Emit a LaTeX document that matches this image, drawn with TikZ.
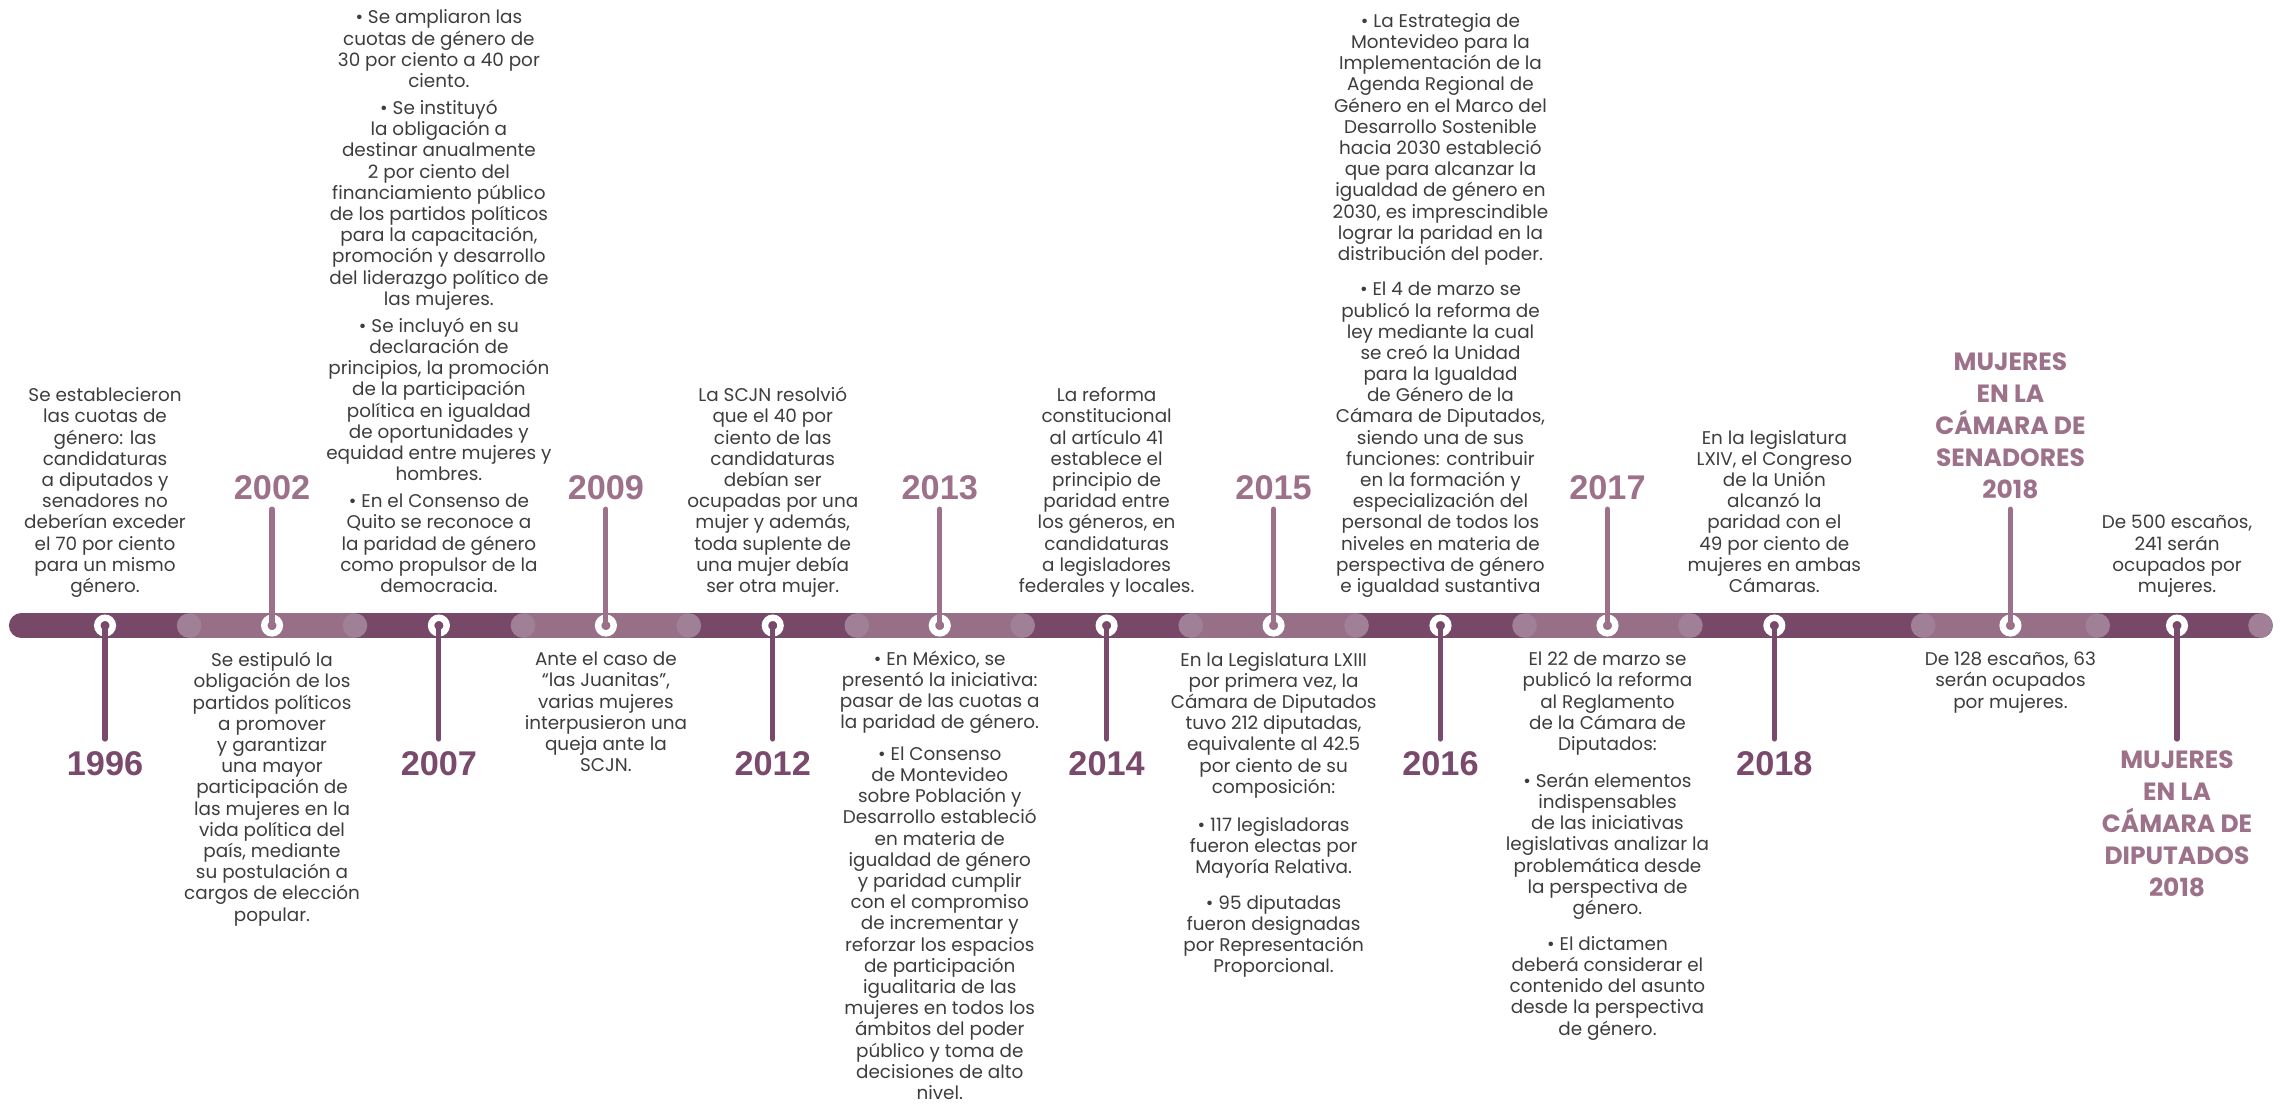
\documentclass[tikz,border=0pt]{standalone}
\usepackage{fontspec}
\setmainfont{Poppins}
\newfontfamily\yearfont{Liberation Sans}

\definecolor{bardark}{HTML}{784869}
\definecolor{barlight}{HTML}{977087}
\definecolor{barjoint}{HTML}{9F8096}
\definecolor{mauve}{HTML}{9C7189}
\definecolor{plum}{HTML}{7A4A6C}
\definecolor{txt}{HTML}{3D3D3D}

\begin{document}
\begin{tikzpicture}[x=0.7pt, y=-0.7pt,
        ring/.style={circle, draw=white, line width=3.1pt, minimum size=7.5pt, inner sep=0pt},
        stemup/.style={draw=mauve, line width=2.5pt, line cap=round},
        stemdown/.style={draw=plum, line width=2.5pt, line cap=round},
        yearup/.style={inner sep=0pt, text=mauve, font={\yearfont\bfseries\fontsize{16.5}{18}\selectfont}},
        yeardown/.style={yearup, text=plum},
        txtup/.style={anchor=south, align=center, inner sep=0pt, text=txt,
            font={\fontsize{8.85}{10.2}\selectfont},
            execute at end node=\strut},
        txtdown/.style={anchor=north, align=center, inner sep=0pt, text=txt,
            font={\fontsize{8.85}{10.2}\selectfont},
            execute at begin node=\strut},
        camara/.style={align=center, inner sep=0pt, text=mauve, font={\bfseries\fontsize{12}{15.4}\selectfont}}]

                \fill[white] (0,0) rectangle (1568,760);
                \useasboundingbox (0,0) rectangle (1568,760);

                % bar
                \draw[bardark, line width=11.83pt, line cap=round] (14.6,430) -- (1553.9,430);
                \draw[barlight, line width=11.83pt] (130,430) -- (244,430);
                \draw[barlight, line width=11.83pt] (359.5,430) -- (473.5,430);
                \draw[barlight, line width=11.83pt] (589,430) -- (703,430);
                \draw[barlight, line width=11.83pt] (818.5,430) -- (932.5,430);
                \draw[barlight, line width=11.83pt] (1048,430) -- (1162,430);
                \draw[barlight, line width=11.83pt] (1322,430) -- (1442,430);
                \fill[barjoint] (130,430) circle (5.92pt);
                \fill[barjoint] (244,430) circle (5.92pt);
                \fill[barjoint] (359.5,430) circle (5.92pt);
                \fill[barjoint] (473.5,430) circle (5.92pt);
                \fill[barjoint] (589,430) circle (5.92pt);
                \fill[barjoint] (703,430) circle (5.92pt);
                \fill[barjoint] (818.5,430) circle (5.92pt);
                \fill[barjoint] (932.5,430) circle (5.92pt);
                \fill[barjoint] (1048,430) circle (5.92pt);
                \fill[barjoint] (1162,430) circle (5.92pt);
                \fill[barjoint] (1322,430) circle (5.92pt);
                \fill[barjoint] (1442,430) circle (5.92pt);
                \fill[barjoint] (1553.9,430) circle (5.92pt);

                \node[ring] (r1996) at (72.2,430) {};
                \node[ring] (r2002) at (187,430) {};
                \node[ring] (r2007) at (301.7,430) {};
                \node[ring] (r2009) at (416.5,430) {};
                \node[ring] (r2012) at (531.2,430) {};
                \node[ring] (r2013) at (646,430) {};
                \node[ring] (r2014) at (760.7,430) {};
                \node[ring] (r2015) at (875.5,430) {};
                \node[ring] (r2016) at (990.2,430) {};
                \node[ring] (r2017) at (1105,430) {};
                \node[ring] (r2018) at (1219.7,430) {};
                \node[ring] (rsen) at (1382,430) {};
                \node[ring] (rdip) at (1496.5,430) {};

                % stems
                \coordinate (e1996) at (72.2,508);
                \coordinate (e2002) at (187,350);
                \coordinate (e2007) at (301.7,508);
                \coordinate (e2009) at (416.5,350);
                \coordinate (e2012) at (531.2,508);
                \coordinate (e2013) at (646,350);
                \coordinate (e2014) at (760.7,508);
                \coordinate (e2015) at (875.5,350);
                \coordinate (e2016) at (990.2,508);
                \coordinate (e2017) at (1105,350);
                \coordinate (e2018) at (1219.7,508);
                \coordinate (esen) at (1382,350);
                \coordinate (edip) at (1496.5,508);
                \draw[stemdown] (r1996.center) -- (e1996);
                \draw[stemup] (r2002.center) -- (e2002);
                \draw[stemdown] (r2007.center) -- (e2007);
                \draw[stemup] (r2009.center) -- (e2009);
                \draw[stemdown] (r2012.center) -- (e2012);
                \draw[stemup] (r2013.center) -- (e2013);
                \draw[stemdown] (r2014.center) -- (e2014);
                \draw[stemup] (r2015.center) -- (e2015);
                \draw[stemdown] (r2016.center) -- (e2016);
                \draw[stemup] (r2017.center) -- (e2017);
                \draw[stemdown] (r2018.center) -- (e2018);
                \draw[stemup] (rsen.center) -- (esen);
                \draw[stemdown] (rdip.center) -- (edip);

                % years
                \node[yeardown] (y1996) at (72.2,525) {1996};
                \node[yearup] (y2002) at (187,335) {2002};
                \node[yeardown] (y2007) at (301.7,525) {2007};
                \node[yearup] (y2009) at (416.5,335) {2009};
                \node[yeardown] (y2012) at (531.2,525) {2012};
                \node[yearup] (y2013) at (646,335) {2013};
                \node[yeardown] (y2014) at (760.7,525) {2014};
                \node[yearup] (y2015) at (875.5,335) {2015};
                \node[yeardown] (y2016) at (990.2,525) {2016};
                \node[yearup] (y2017) at (1105,335) {2017};
                \node[yeardown] (y2018) at (1219.7,525) {2018};
                \node[camara] (ysen) at (1382,293) {MUJERES\\EN LA\\CÁMARA DE\\SENADORES\\2018};
                \node[camara] (ydip) at (1496.5,566) {MUJERES\\EN LA\\CÁMARA DE\\DIPUTADOS\\2018};

                % texts
                \node[txtup] (t1996) at (72.2,412) {Se establecieron\\las cuotas de\\género: las\\candidaturas\\a diputados y\\senadores no\\deberían exceder\\el 70 por ciento\\para un mismo\\género.};
                \node[txtdown] (t2002) at (187,448) {Se estipuló la\\obligación de los\\partidos políticos\\a promover\\y garantizar\\una mayor\\participación de\\las mujeres en la\\vida política del\\país, mediante\\su postulación a\\cargos de elección\\popular.};
                \node[txtup] (t2007) at (301.7,412) {• Se ampliaron las\\cuotas de género de\\30 por ciento a 40 por\\ciento.\\[2.8pt]• Se instituyó\\la obligación a\\destinar anualmente\\2 por ciento del\\financiamiento público\\de los partidos políticos\\para la capacitación,\\promoción y desarrollo\\del liderazgo político de\\las mujeres.\\[2.8pt]• Se incluyó en su\\declaración de\\principios, la promoción\\de la participación\\política en igualdad\\de oportunidades y\\equidad entre mujeres y\\hombres.\\[2.8pt]• En el Consenso de\\Quito se reconoce a\\la paridad de género\\como propulsor de la\\democracia.};
                \node[txtdown] (t2009) at (416.5,448) {Ante el caso de\\“las Juanitas”,\\varias mujeres\\interpusieron una\\queja ante la\\SCJN.};
                \node[txtup] (t2012) at (531.2,412) {La SCJN resolvió\\que el 40 por\\ciento de las\\candidaturas\\debían ser\\ocupadas por una\\mujer y además,\\toda suplente de\\una mujer debía\\ser otra mujer.};
                \node[txtdown] (t2013) at (646,447) {• En México, se\\presentó la iniciativa:\\pasar de las cuotas a\\la paridad de género.\\[5pt]• El Consenso\\de Montevideo\\sobre Población y\\Desarrollo estableció\\en materia de\\igualdad de género\\y paridad cumplir\\con el compromiso\\de incrementar y\\reforzar los espacios\\de participación\\igualitaria de las\\mujeres en todos los\\ámbitos del poder\\público y toma de\\decisiones de alto\\nivel.};
                \node[txtup] (t2014) at (760.7,412) {La reforma\\constitucional\\al artículo 41\\establece el\\principio de\\paridad entre\\los géneros, en\\candidaturas\\a legisladores\\federales y locales.};
                \node[txtdown] (t2015) at (875.5,448) {En la Legislatura LXIII\\por primera vez, la\\Cámara de Diputados\\tuvo 212 diputadas,\\equivalente al 42.5\\por ciento de su\\composición:\\[8pt]• 117 legisladoras\\fueron electas por\\Mayoría Relativa.\\[7pt]• 95 diputadas\\fueron designadas\\por Representación\\Proporcional.};
                \node[txtup] (t2016) at (990.2,412) {• La Estrategia de\\Montevideo para la\\Implementación de la\\Agenda Regional de\\Género en el Marco del\\Desarrollo Sostenible\\hacia 2030 estableció\\que para alcanzar la\\igualdad de género en\\2030, es imprescindible\\lograr la paridad en la\\distribución del poder.\\[6.8pt]• El 4 de marzo se\\publicó la reforma de\\ley mediante la cual\\se creó la Unidad\\para la Igualdad\\de Género de la\\Cámara de Diputados,\\siendo una de sus\\funciones: contribuir\\en la formación y\\especialización del\\personal de todos los\\niveles en materia de\\perspectiva de género\\e igualdad sustantiva};
                \node[txtdown] (t2017) at (1105,448) {El 22 de marzo se\\publicó la reforma\\al Reglamento\\de la Cámara de\\Diputados:\\[7.5pt]• Serán elementos\\indispensables\\de las iniciativas\\legislativas analizar la\\problemática desde\\la perspectiva de\\género.\\[7pt]• El dictamen\\deberá considerar el\\contenido del asunto\\desde la perspectiva\\de género.};
                \node[txtup] (t2018) at (1219.7,412) {En la legislatura\\LXIV, el Congreso\\de la Unión\\alcanzó la\\paridad con el\\49 por ciento de\\mujeres en ambas\\Cámaras.};
                \node[txtdown] (tsen) at (1382,448) {De 128 escaños, 63\\serán ocupados\\por mujeres.};
                \node[txtup] (tdip) at (1496.5,412) {De 500 escaños,\\241 serán\\ocupados por\\mujeres.};

\end{tikzpicture}
\end{document}
